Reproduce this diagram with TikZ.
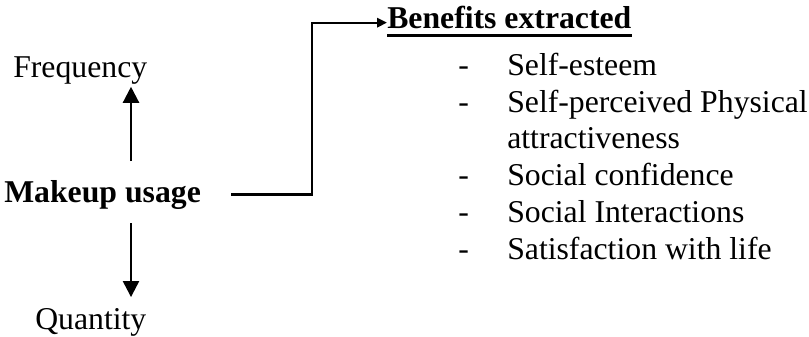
\documentclass[tikz,border=0pt]{standalone}
\usepackage{fontspec}
\setmainfont{Liberation Serif}
\usetikzlibrary{arrows.meta}
\begin{document}
\begin{tikzpicture}[x=0.75pt,y=-0.75pt,
  txt/.style={inner sep=0pt,anchor=base west,font=\fontsize{23.8}{28}\selectfont},
  hd/.style={txt,font=\fontsize{23.8}{28}\selectfont\bfseries},
  link/.style={line width=1.7pt},
  varrow/.style={link,-{Triangle[length=12pt,width=12pt]}},
  harrow/.style={link,-{Triangle[length=7.5pt,width=7pt]}}]
  \useasboundingbox (0,0) rectangle (809,336);

  % left column
  \node[hd]  (mk)   at (4,202)  {Makeup usage};
  \node[txt] (freq) at (13,77)  {Frequency};
  \node[txt] (qty)  at (35,329) {Quantity};
  \coordinate (axis) at (131,0);
  \draw[varrow] ([yshift=14pt]mk.north -| axis) -- ([yshift=-2pt]freq.south -| axis);
  \draw[varrow] ([yshift=-10.5pt]mk.south -| axis) -- ([yshift=8pt]qty.north -| axis);

  % benefits heading and list
  \node[hd] (ben) at (387,28) {Benefits extracted};
  \draw[line width=1.7pt] ([yshift=-5.6pt]ben.base west) -- ([yshift=-5.6pt]ben.base east);

  \foreach \y/\t [count=\i] in {75/Self-esteem,112/Self-perceived Physical,185/Social confidence,222/Social Interactions,259/Satisfaction with life}{
    \node[txt] (d\i) at (458,\y) {-};
    \node[txt] (b\i) at (507,\y) {\t};
  }
  \node[txt] (b2b) at (507,148) {attractiveness};

  % connector from usage to benefits
  \coordinate (bend) at (312,194);
  \draw[harrow] ([xshift=22.5pt]mk.east) -- (bend |- mk.east) |- ([yshift=4pt]ben.base west);
\end{tikzpicture}
\end{document}
